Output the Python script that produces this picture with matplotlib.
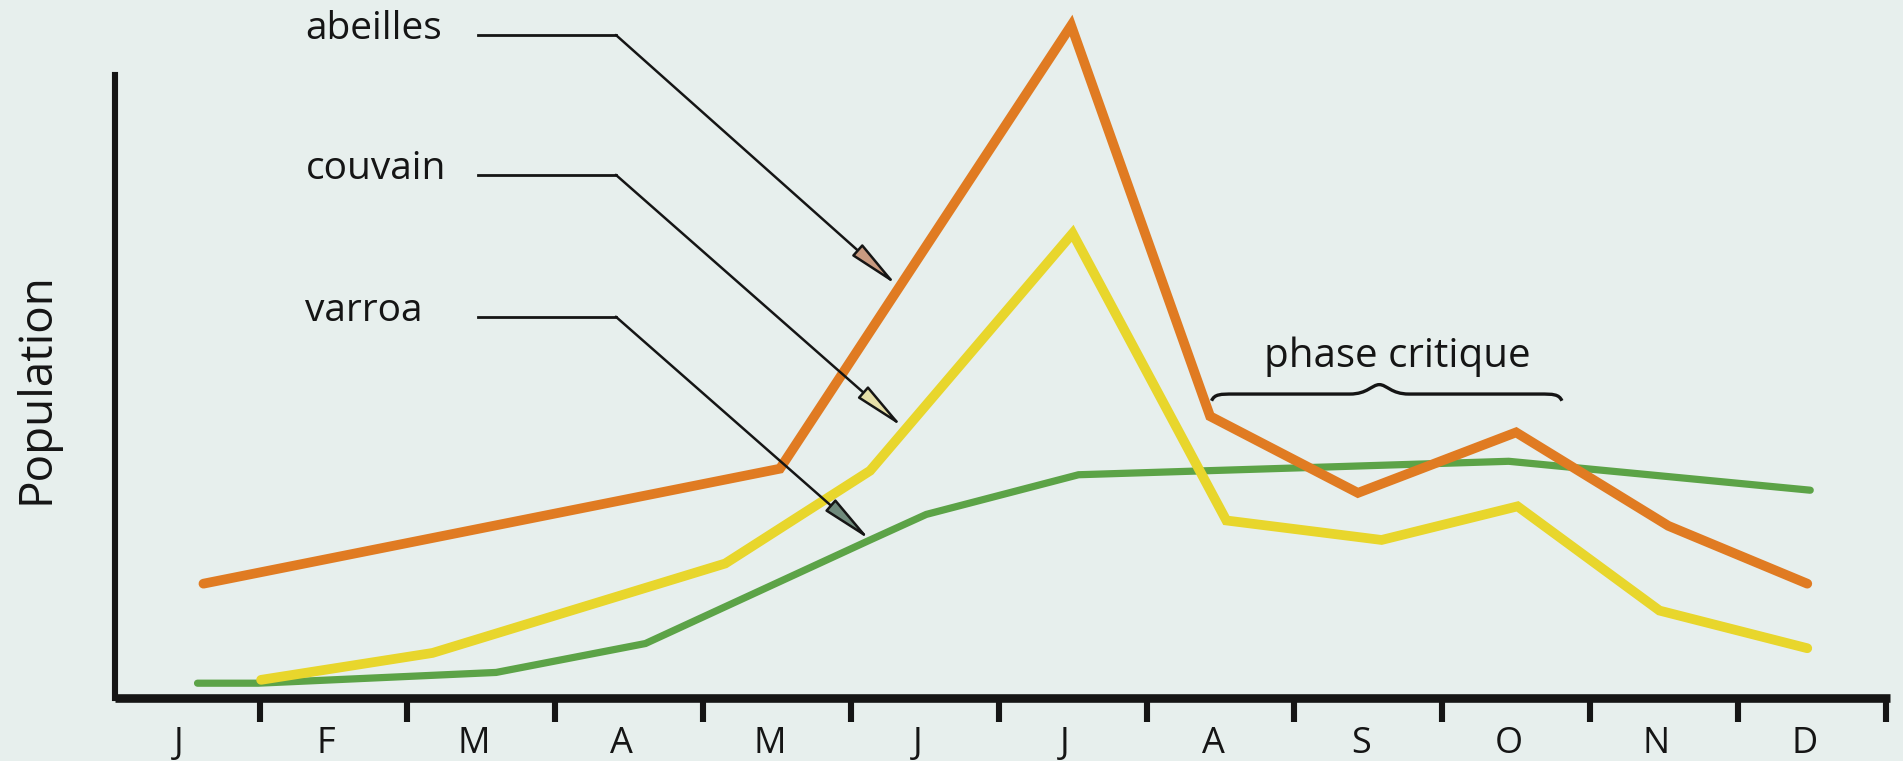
import numpy as np
import matplotlib
matplotlib.use("Agg")
import matplotlib.pyplot as plt
from matplotlib.path import Path
from matplotlib.patches import PathPatch

# --- data (month index: 0 = janvier ... 11 = décembre; population en unités relatives) ---
months = ["J", "F", "M", "A", "M", "J", "J", "A", "S", "O", "N", "D"]

abeilles_x = [0.17, 4.07, 6.04, 6.98, 7.98, 9.05, 10.08, 11.02]
abeilles_y = [17.0, 34.1, 100.0, 41.9, 30.5, 39.5, 25.6, 17.0]

couvain_x = [0.56, 1.72, 3.70, 4.68, 6.05, 7.09, 8.14, 9.06, 10.02, 11.02]
couvain_y = [2.7, 6.7, 20.0, 33.8, 69.1, 26.4, 23.5, 28.5, 13.0, 7.4]

varroa_x = [0.13, 0.54, 2.15, 3.16, 4.68, 5.06, 6.09, 9.00, 11.04]
varroa_y = [2.2, 2.2, 3.8, 8.1, 23.5, 27.3, 33.2, 35.2, 30.9]

# label text, y of the leader line, arrow tip (x, y), arrowhead colour
labels = ["abeilles", "couvain", "varroa"]
label_y = [98.6, 77.8, 56.7]
tip_x = [4.86, 4.90, 4.68]
tip_y = [61.4, 40.3, 23.5]
head_colors = ["#c99a80", "#e6dfa8", "#6f8a7c"]

phase_start, phase_end = 6.99, 9.36   # "phase critique" span

# -----------------------------------------------------------------------------
BG = "#e7efed"
ORANGE = "#e07b22"
YELLOW = "#e8d62c"
GREEN = "#5ca347"
INK = "#151515"

plt.rcParams["font.family"] = ["Open Sans", "DejaVu Sans"]

fig = plt.figure(figsize=(19.03, 7.61), dpi=100, facecolor=BG)
ax = fig.add_axes([0.0603, 0.0828, 0.9329, 0.9172])
ax.set_facecolor(BG)
ax.set_xlim(-0.43, 11.58)
ax.set_ylim(0, 103.8)

ax.plot(varroa_x, varroa_y, color=GREEN, lw=5.2, solid_capstyle="round",
        solid_joinstyle="miter", clip_on=False, zorder=3)
ax.plot(couvain_x, couvain_y, color=YELLOW, lw=7, solid_capstyle="round",
        solid_joinstyle="miter", clip_on=False, zorder=4)
ax.plot(abeilles_x, abeilles_y, color=ORANGE, lw=7, solid_capstyle="round",
        solid_joinstyle="miter", clip_on=False, zorder=5)

# axes: thick black L, ticks between months
for s in ["top", "right"]:
    ax.spines[s].set_visible(False)
ax.spines["left"].set_linewidth(4.4)
ax.spines["left"].set_bounds(0, 92.6)
ax.spines["bottom"].set_linewidth(6.2)
ax.spines["left"].set_color(INK)
ax.spines["bottom"].set_color(INK)
ax.spines["bottom"].set_capstyle("butt")

ax.set_yticks([])
ax.set_xticks(range(12))
ax.set_xticklabels(months, fontsize=26, color=INK)
ax.tick_params(axis="x", which="major", length=0, pad=20)
ax.set_xticks(np.arange(12) + 0.55, minor=True)
ax.tick_params(axis="x", which="minor", length=17, width=4.4, color=INK,
               direction="out")

fig.text(0.019, 0.49, "Population", rotation=90, fontsize=33, color=INK,
         ha="center", va="center")

# leader lines with arrows
for name, ly, tx, ty, hc in zip(labels, label_y, tip_x, tip_y, head_colors):
    ax.text(0.86, ly + 0.9, name, fontsize=28, color=INK, ha="left", va="center")
    ax.plot([2.03, 2.96], [ly, ly], color=INK, lw=2.0, clip_on=False)
    ax.annotate("", xy=(tx, ty), xytext=(2.96, ly),
                arrowprops=dict(arrowstyle="-|>,head_length=2.1,head_width=0.32",
                                mutation_scale=15, fc=hc, ec=INK, lw=1.8,
                                shrinkA=0, shrinkB=0),
                zorder=6, annotation_clip=False)

# curly brace for the critical phase
by, h, e = 45.2, 1.4, 1.0
xm = (phase_start + phase_end) / 2 - 0.05
verts = [(phase_start, by - e),
         (phase_start + 0.02, by), (phase_start + 0.06, by), (phase_start + 0.15, by),
         (xm - 0.2, by),
         (xm - 0.08, by), (xm - 0.05, by + h), (xm, by + h),
         (xm + 0.05, by + h), (xm + 0.08, by), (xm + 0.2, by),
         (phase_end - 0.15, by),
         (phase_end - 0.06, by), (phase_end - 0.02, by), (phase_end, by - e)]
codes = [Path.MOVETO] + [Path.CURVE4] * 3 + [Path.LINETO] + [Path.CURVE4] * 6 + \
        [Path.LINETO] + [Path.CURVE4] * 3
ax.add_patch(PathPatch(Path(verts, codes), fc="none", ec=INK, lw=2.4, zorder=6))
ax.text(xm + 0.12, by + 5.5, "phase critique", fontsize=29, color=INK,
        ha="center", va="center")

fig.savefig("out.png", dpi=100, facecolor=BG)
